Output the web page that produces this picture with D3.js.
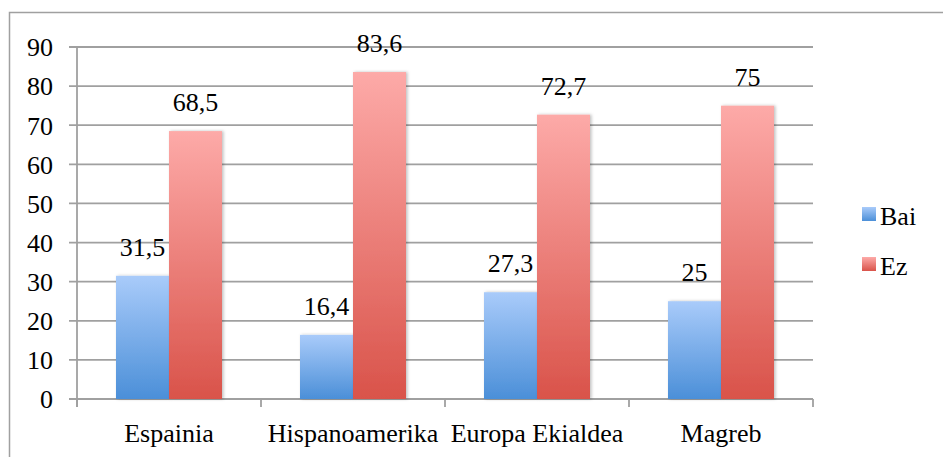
<!DOCTYPE html>
<html>
<head>
<meta charset="utf-8">
<script src="https://cdn.jsdelivr.net/npm/d3@7"></script>
<style>
  html, body { margin: 0; padding: 0; background: #fff; }
  svg { display: block; }
</style>
</head>
<body>
<svg id="chart" width="943" height="457"></svg>
<script>
const categories = ["Espainia", "Hispanoamerika", "Europa Ekialdea", "Magreb"];
const seriesNames = ["Bai", "Ez"];
const baiValues = [31.5, 16.4, 27.3, 25];
const ezValues = [68.5, 83.6, 72.7, 75];
const yTicks = [0, 10, 20, 30, 40, 50, 60, 70, 80, 90];
const valueLabels = [["31,5", "16,4", "27,3", "25"], ["68,5", "83,6", "72,7", "75"]];

(function () {
// pick first installed serif font
const cv = document.createElement("canvas").getContext("2d");
const probe = "Espainia Hispanoamerika 0123456789 Wmlil";
function w(f) { cv.font = "40px " + f; return cv.measureText(probe).width; }
const candidates = ["Liberation Serif", "Tinos", "Times New Roman", "Times", "Noto Serif", "DejaVu Serif", "FreeSerif", "Nimbus Roman", "Nimbus Roman No9 L"];
let chosen = null;
for (const c of candidates) {
  const a = w(`"${c}", monospace`), b = w("monospace");
  const a2 = w(`"${c}", sans-serif`), b2 = w("sans-serif");
  if (Math.abs(a - b) > 0.5 || Math.abs(a2 - b2) > 0.5) { chosen = c; break; }
}
const font = chosen ? `"${chosen}", serif` : "serif";

const svg = d3.select("#chart");
const pLeft = 77, pRight = 813, pTop = 47, pBottom = 399;
const grid = "#a0a0a0";

// outer border
svg.append("rect").attr("x", 9.5).attr("y", 12.5).attr("width", 950).attr("height", 460)
  .attr("fill", "#fff").attr("stroke", grid).attr("stroke-width", 1.5);

const defs = svg.append("defs");
const gradSpecs = [
  {id: "gBai", top: "#a9cbfa", bottom: "#4b8fd8"},
  {id: "gEz", top: "#fdaaa8", bottom: "#d9534a"}
];
gradSpecs.forEach(g => {
  const lg = defs.append("linearGradient").attr("id", g.id)
    .attr("x1", 0).attr("y1", 0).attr("x2", 0).attr("y2", 1);
  lg.append("stop").attr("offset", "0%").attr("stop-color", g.top);
  lg.append("stop").attr("offset", "100%").attr("stop-color", g.bottom);
});
const flt = defs.append("filter").attr("id", "shadow").attr("x", "-20%").attr("y", "-10%").attr("width", "140%").attr("height", "120%");
flt.append("feDropShadow").attr("dx", 1.5).attr("dy", 0).attr("stdDeviation", 1.5)
  .attr("flood-color", "#000").attr("flood-opacity", 0.25);

const x = d3.scaleBand().domain(categories).range([pLeft, pRight]).paddingInner(0).paddingOuter(0);
const bw = x.bandwidth();
const xs = d3.scaleBand().domain(seriesNames).range([0, bw]).paddingInner(0).paddingOuter(39 / 53);
const y = d3.scaleLinear().domain([0, 90]).range([pBottom, pTop]);

// gridlines
svg.append("g").selectAll("line").data(yTicks).join("line")
  .attr("x1", pLeft - 8).attr("x2", pRight)
  .attr("y1", d => y(d)).attr("y2", d => y(d))
  .attr("stroke", grid).attr("stroke-width", 1.8);

// y axis
const yAxis = d3.axisLeft(y).tickValues(yTicks).tickSize(0).tickPadding(24).tickFormat(d3.format("d"));
const gy = svg.append("g").attr("transform", `translate(${pLeft},0)`).call(yAxis);
gy.attr("font-family", font).attr("font-size", 26);
gy.select(".domain").remove();
gy.selectAll("text").attr("dy", "0.34em").attr("fill", "#000");
svg.append("line").attr("x1", pLeft).attr("x2", pLeft).attr("y1", pTop).attr("y2", pBottom + 8)
  .attr("stroke", grid).attr("stroke-width", 1.8);

// x axis
const bounds = categories.map(c => x(c)).concat([pRight]);
svg.append("g").selectAll("line").data(bounds).join("line")
  .attr("x1", d => d).attr("x2", d => d).attr("y1", pBottom).attr("y2", pBottom + 8)
  .attr("stroke", grid).attr("stroke-width", 1.8);
const xAxis = d3.axisBottom(x).tickSize(0).tickPadding(0);
const gx = svg.append("g").attr("transform", `translate(0,${pBottom})`).call(xAxis);
gx.attr("font-family", font).attr("font-size", 26);
gx.select(".domain").remove();
gx.selectAll("text").attr("y", 43).attr("dy", 0).attr("fill", "#000");

// bars
const series = [baiValues, ezValues];
series.forEach((vals, si) => {
  const g = svg.append("g").attr("font-family", font).attr("font-size", 26);
  g.selectAll("rect").data(vals).join("rect")
    .attr("x", (d, i) => x(categories[i]) + xs(seriesNames[si]))
    .attr("y", d => y(d))
    .attr("width", xs.bandwidth())
    .attr("height", d => y(0) - y(d))
    .attr("fill", `url(#${gradSpecs[si].id})`)
    .attr("filter", "url(#shadow)");
  g.selectAll("text").data(vals).join("text")
    .attr("x", (d, i) => x(categories[i]) + xs(seriesNames[si]) + xs.bandwidth() / 2)
    .attr("y", d => y(d) - 20)
    .attr("text-anchor", "middle").attr("fill", "#000")
    .text((d, i) => valueLabels[si][i]);
});

// legend
const lg = svg.append("g").attr("font-family", font).attr("font-size", 26);
seriesNames.forEach((s, i) => {
  const yy = 207 + i * 50;
  lg.append("rect").attr("x", 862).attr("y", yy).attr("width", 14).attr("height", 14)
    .attr("fill", `url(#${gradSpecs[i].id})`);
  lg.append("text").attr("x", 880).attr("y", yy + 18).attr("fill", "#000").text(s);
});
})();
</script>
</body>
</html>
